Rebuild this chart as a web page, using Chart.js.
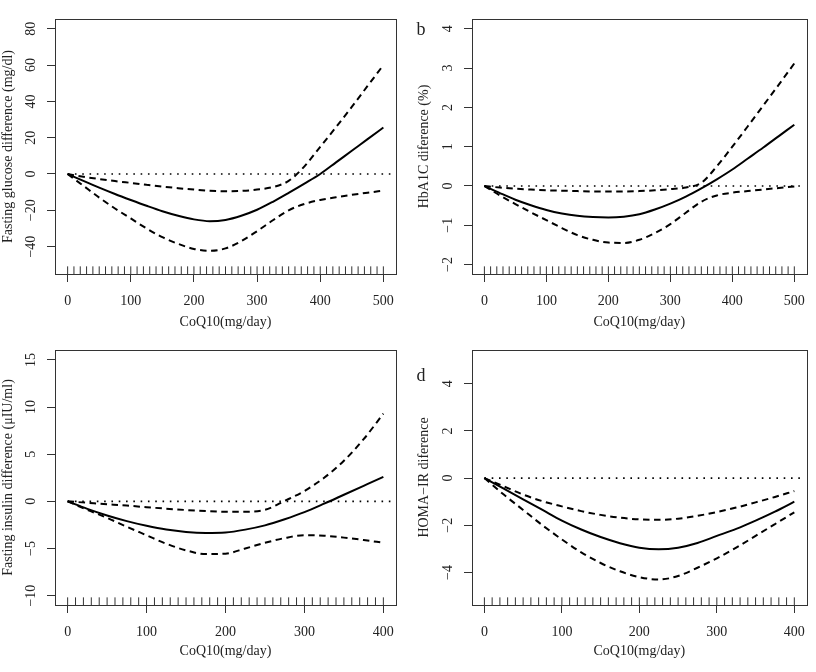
<!DOCTYPE html>
<html>
<head>
<meta charset="utf-8">
<title>CoQ10 dose-response</title>
<script src="https://cdn.jsdelivr.net/npm/chart.js@4.4.1/dist/chart.umd.min.js"></script>
<style>
  html, body { margin: 0; padding: 0; background: #fff; }
  #wrap { position: relative; width: 816px; height: 672px; }
  canvas { position: absolute; }
</style>
</head>
<body>
<div id="wrap">
  <canvas id="panelA" width="408" height="336" style="left:0;top:0"></canvas>
  <canvas id="panelB" width="408" height="336" style="left:408px;top:0"></canvas>
  <canvas id="panelC" width="408" height="336" style="left:0;top:336px"></canvas>
  <canvas id="panelD" width="408" height="336" style="left:408px;top:336px"></canvas>
</div>
<script>
// doses (mg/day)
var doseAB = [0, 25, 50, 75, 100, 125, 150, 175, 200, 225, 250, 275, 300, 325, 350, 375, 400, 425, 450, 475, 500];
var doseCD = [0, 25, 50, 75, 100, 125, 150, 175, 200, 225, 250, 275, 300, 325, 350, 375, 400];

// a: fasting glucose
var glucoseFit = [0, -3.8, -7.5, -11, -14.3, -17.5, -20.5, -23, -25, -26, -25.3, -23, -19.7, -15.3, -10.4, -5.3, 0, 6.4, 12.8, 19.2, 25.6];
var glucoseUpper = [0, -1.5, -2.8, -3.9, -4.9, -5.9, -6.9, -7.8, -8.6, -9.2, -9.5, -9.3, -8.6, -7.2, -3.8, 4.2, 15, 25.8, 37, 48.5, 60];
var glucoseLower = [0, -6.5, -13, -19, -24.5, -30, -34.8, -38.5, -41.3, -42.3, -41, -37, -31.5, -25.5, -20, -16.5, -14.3, -12.8, -11.5, -10.3, -9.2];

// b: HbA1C
var hba1cFit = [0, -0.18, -0.35, -0.49, -0.61, -0.7, -0.76, -0.79, -0.8, -0.78, -0.72, -0.6, -0.45, -0.27, -0.06, 0.17, 0.42, 0.7, 0.98, 1.27, 1.56];
var hba1cUpper = [0, -0.04, -0.07, -0.09, -0.11, -0.12, -0.13, -0.14, -0.14, -0.14, -0.13, -0.11, -0.08, -0.04, 0.08, 0.5, 1, 1.52, 2.05, 2.58, 3.12];
var hba1cLower = [0, -0.24, -0.46, -0.67, -0.87, -1.07, -1.25, -1.37, -1.44, -1.45, -1.37, -1.2, -0.97, -0.68, -0.4, -0.24, -0.17, -0.13, -0.09, -0.05, -0.01];

// c: fasting insulin
var insulinFit = [0, -0.8, -1.5, -2.1, -2.6, -3, -3.25, -3.35, -3.3, -3, -2.55, -1.9, -1.15, -0.25, 0.7, 1.65, 2.6];
var insulinUpper = [0, -0.15, -0.3, -0.45, -0.62, -0.78, -0.92, -1.03, -1.1, -1.1, -0.9, 0.05, 1.1, 2.5, 4.3, 6.6, 9.3];
var insulinLower = [0, -0.9, -1.75, -2.7, -3.6, -4.5, -5.2, -5.6, -5.55, -5, -4.4, -3.9, -3.6, -3.65, -3.85, -4.1, -4.4];

// d: HOMA-IR
var homaFit = [0, -0.45, -0.9, -1.35, -1.8, -2.18, -2.5, -2.76, -2.95, -3.02, -2.95, -2.75, -2.45, -2.15, -1.8, -1.42, -1];
var homaUpper = [0, -0.35, -0.7, -0.98, -1.2, -1.4, -1.56, -1.68, -1.75, -1.77, -1.72, -1.6, -1.44, -1.25, -1.03, -0.8, -0.55];
var homaLower = [0, -0.7, -1.35, -2, -2.6, -3.15, -3.6, -3.95, -4.2, -4.3, -4.15, -3.8, -3.4, -2.95, -2.45, -1.95, -1.45];

// rug of observed doses
var rugAB = [0, 10, 20, 30, 40, 50, 60, 70, 80, 90, 100, 110, 120, 130, 140, 150, 160, 170, 180, 190, 200,
  210, 220, 230, 240, 250, 260, 270, 280, 290, 300, 310, 320, 330, 340, 350, 360, 370, 380, 390, 400,
  410, 420, 430, 440, 450, 460, 470, 480, 490, 500];
var rugCD = [0, 10, 20, 30, 40, 50, 60, 70, 80, 90, 100, 110, 120, 130, 140, 150, 160, 170, 180, 190, 200,
  210, 220, 230, 240, 250, 260, 270, 280, 290, 300, 310, 320, 330, 340, 350, 360, 370, 380, 390, 400];

// reference line y = 0
var zeroAB = [0, 513];
var zeroCD = [0, 411];
var zeroY = [0, 0];

// tick labels
var doseTicksAB = [0, 100, 200, 300, 400, 500];
var doseTicksCD = [0, 100, 200, 300, 400];
var glucoseTicks = [-40, -20, 0, 20, 40, 60, 80];
var hba1cTicks = [-2, -1, 0, 1, 2, 3, 4];
var insulinTicks = [-10, -5, 0, 5, 10, 15];
var homaTicks = [-4, -2, 0, 2, 4];

var serif = '"Liberation Serif", "Times New Roman", serif';
var ink = '#222';

function toPoints(xs, ys) {

  var out = [];
  for (var i = 0; i < xs.length; i++) {
    out.push({x: xs[i], y: ys[i]});
  }
  return out;
}

function minusSign(v) {

  return String(v).replace('-', '\u2212');
}

// box, rug, rotated y labels and panel letter, drawn R-style
var rFrame = {

  id: 'rFrame',
  afterDraw: function(chart, args, opts) {

    var ctx = chart.ctx;
    var area = chart.chartArea;
    var xScale = chart.scales.x;
    var yScale = chart.scales.y;

    ctx.save();
    ctx.strokeStyle = '#333';
    ctx.lineWidth = 1;

    var rugLen = (area.bottom - area.top) * 0.03;
    ctx.beginPath();
    for (var i = 0; i < opts.rug.length; i++) {
      var px = xScale.getPixelForValue(opts.rug[i]);
      ctx.moveTo(px, area.bottom);
      ctx.lineTo(px, area.bottom - rugLen);
    }
    ctx.stroke();

    ctx.strokeRect(Math.round(area.left) + 0.5, Math.round(area.top) + 0.5,
      Math.round(area.right - area.left), Math.round(area.bottom - area.top));

    ctx.fillStyle = ink;
    ctx.font = '14px ' + serif;
    ctx.textAlign = 'center';
    ctx.textBaseline = 'middle';
    for (var j = 0; j < opts.yTicks.length; j++) {
      var py = yScale.getPixelForValue(opts.yTicks[j]);
      ctx.save();
      ctx.translate(area.left - 23.5, py);
      ctx.rotate(-Math.PI / 2);
      ctx.fillText(minusSign(opts.yTicks[j]), 0, 0);
      ctx.restore();
    }

    if (opts.letter) {
      ctx.font = '18px ' + serif;
      ctx.fillText(opts.letter, opts.letterX, opts.letterY);
    }
    ctx.restore();
  }
};

function makePanel(id, p) {

  var ctx = document.getElementById(id).getContext('2d');
  var line = {pointRadius: 0, borderColor: '#000', fill: false, cubicInterpolationMode: 'monotone'};

  var chart = new Chart(ctx, {

    type: 'line',

    data: {
      datasets: [
        Object.assign({}, line, {data: toPoints(p.zero, zeroY), borderWidth: 1.6, borderDash: [1.6, 5.7]}),
        Object.assign({}, line, {data: toPoints(p.dose, p.upper), borderWidth: 2, borderDash: [6.5, 4.5]}),
        Object.assign({}, line, {data: toPoints(p.dose, p.lower), borderWidth: 2, borderDash: [6.5, 4.5]}),
        Object.assign({}, line, {data: toPoints(p.dose, p.fit), borderWidth: 2})
      ]
    },

    options: {
      responsive: false,
      animation: false,
      layout: {padding: {left: 0, top: p.top, right: p.right, bottom: 0}},
      plugins: {
        legend: {display: false},
        tooltip: {enabled: false},
        rFrame: {rug: p.rug, yTicks: p.yTicks, letter: p.letter, letterX: 13, letterY: p.letterY}
      },
      scales: {
        x: {
          type: 'linear',
          min: p.xMin,
          max: p.xMax,
          afterBuildTicks: function(scale) {
            scale.ticks = p.xTicks.map(function(v) { return {value: v}; });
          },
          afterFit: function(scale) { scale.height = p.xHeight; },
          grid: {drawOnChartArea: false, drawTicks: true, tickLength: 8, color: '#333'},
          border: {display: false},
          ticks: {color: ink, padding: 11, maxRotation: 0, font: {family: serif, size: 14, lineHeight: 1.2}},
          title: {display: true, text: 'CoQ10(mg/day)', color: ink, padding: {top: 0, bottom: p.xTitlePad},
            font: {family: serif, size: 14, lineHeight: 1.2}}
        },
        y: {
          type: 'linear',
          min: p.yMin,
          max: p.yMax,
          afterBuildTicks: function(scale) {
            scale.ticks = p.yTicks.map(function(v) { return {value: v}; });
          },
          afterFit: function(scale) { scale.width = p.yWidth; },
          grid: {drawOnChartArea: false, drawTicks: true, tickLength: 8, color: '#333'},
          border: {display: false},
          ticks: {display: false},
          title: {display: true, text: p.yTitle, color: ink, padding: {top: p.yTitlePad, bottom: 0},
            font: {family: serif, size: 14, lineHeight: 1.2}}
        }
      }
    },

    plugins: [rFrame]
  });
  return chart;
}

function init() {

  makePanel('panelA', {
    dose: doseAB, fit: glucoseFit, upper: glucoseUpper, lower: glucoseLower,
    rug: rugAB, zero: zeroAB, xTicks: doseTicksAB, yTicks: glucoseTicks,
    xMin: -20, xMax: 520, yMin: -55.1, yMax: 85.4,
    top: 19, right: 12, yWidth: 55, xHeight: 62, xTitlePad: 5, yTitlePad: 0,
    yTitle: 'Fasting glucose difference (mg/dl)'
  });

  makePanel('panelB', {
    dose: doseAB, fit: hba1cFit, upper: hba1cUpper, lower: hba1cLower,
    rug: rugAB, zero: zeroAB, xTicks: doseTicksAB, yTicks: hba1cTicks,
    xMin: -20, xMax: 520, yMin: -2.24, yMax: 4.25,
    top: 19, right: 5, yWidth: 64, xHeight: 62, xTitlePad: 5, yTitlePad: 7.5,
    yTitle: 'HbA1C diference (%)', letter: 'b', letterY: 30
  });

  makePanel('panelC', {
    dose: doseCD, fit: insulinFit, upper: insulinUpper, lower: insulinLower,
    rug: rugCD, zero: zeroCD, xTicks: doseTicksCD, yTicks: insulinTicks,
    xMin: -16, xMax: 416, yMin: -11, yMax: 16.06,
    top: 14, right: 12, yWidth: 55, xHeight: 67, xTitlePad: 12.5, yTitlePad: 0,
    yTitle: 'Fasting insulin difference (\u03bcIU/ml)'
  });

  makePanel('panelD', {
    dose: doseCD, fit: homaFit, upper: homaUpper, lower: homaLower,
    rug: rugCD, zero: zeroCD, xTicks: doseTicksCD, yTicks: homaTicks,
    xMin: -16, xMax: 416, yMin: -5.38, yMax: 5.43,
    top: 14, right: 5, yWidth: 64, xHeight: 67, xTitlePad: 12.5, yTitlePad: 7.5,
    yTitle: 'HOMA\u2212IR diference', letter: 'd', letterY: 40
  });
}

init();
</script>
</body>
</html>
